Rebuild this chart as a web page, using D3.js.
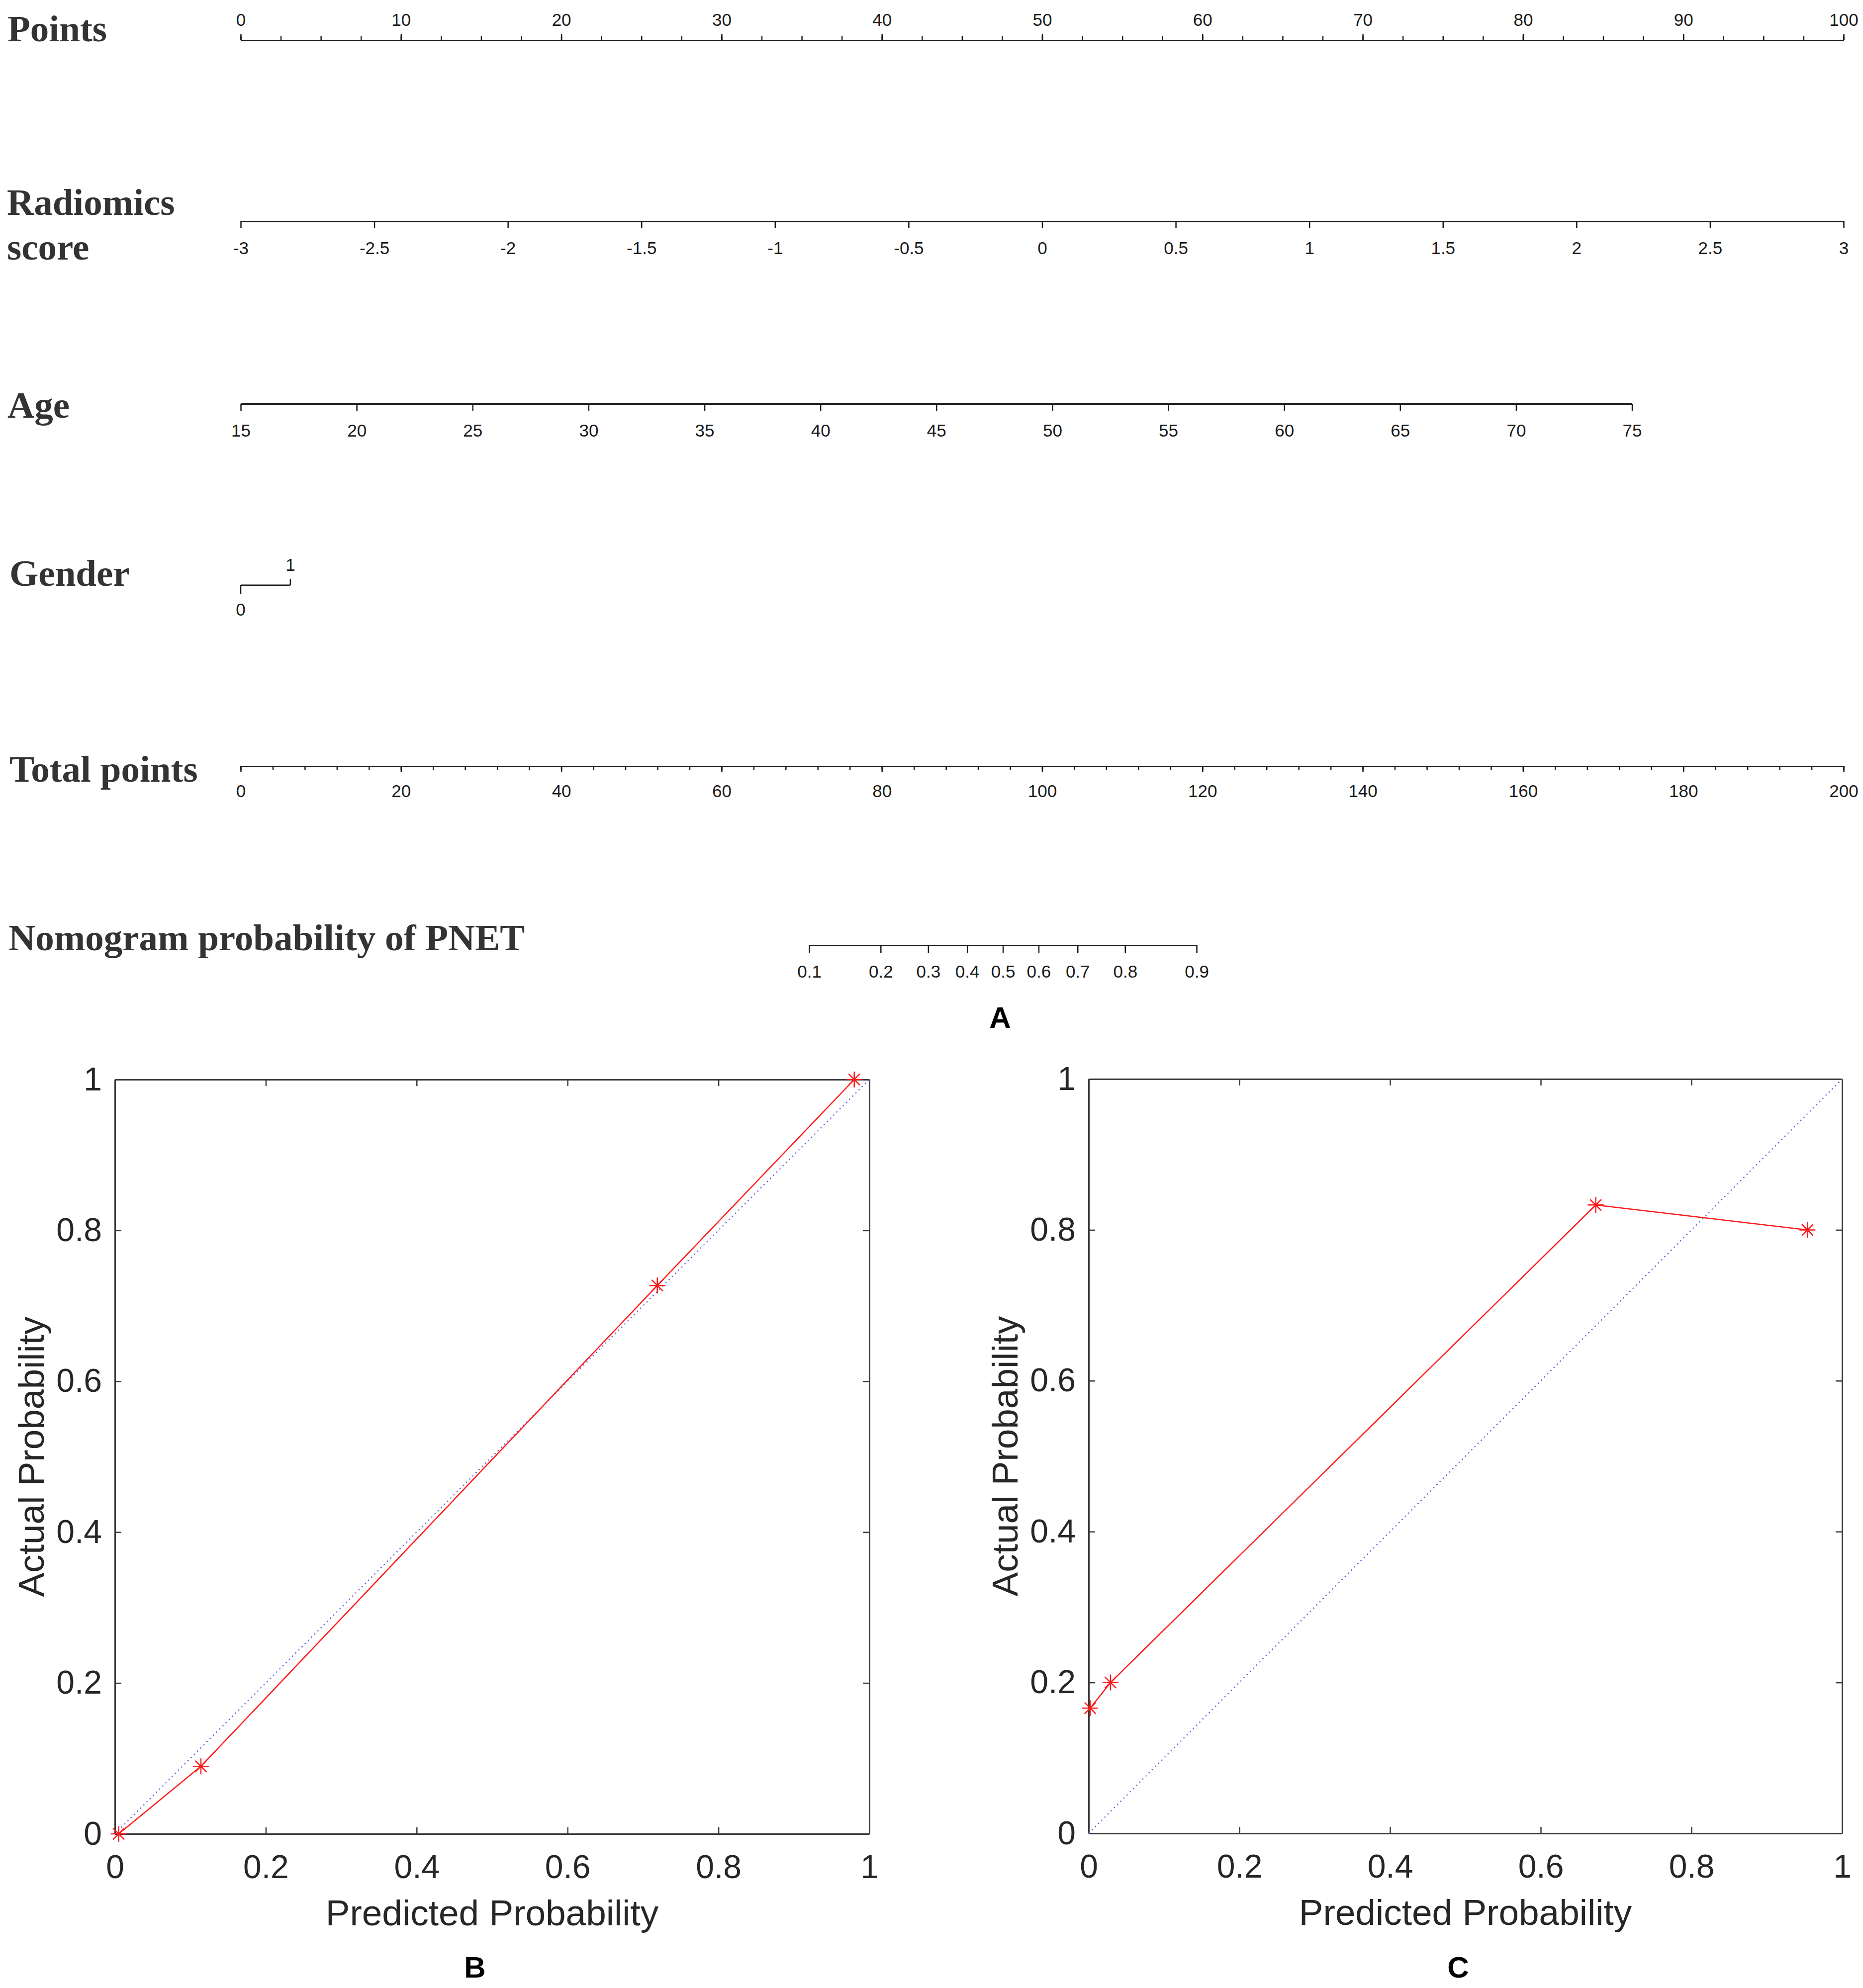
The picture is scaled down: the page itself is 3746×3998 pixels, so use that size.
<!DOCTYPE html>
<html>
<head>
<meta charset="utf-8">
<script src="https://cdn.jsdelivr.net/npm/d3@7"></script>
<style>
  body { margin: 0; background: #fff; }
</style>
</head>
<body>
<script>
// ---- nomogram data ----
var pointsTicks = [0, 10, 20, 30, 40, 50, 60, 70, 80, 90, 100];
var pointsMinor = d3.range(0, 100.01, 2.5);
var radiomicsTicks = [-3, -2.5, -2, -1.5, -1, -0.5, 0, 0.5, 1, 1.5, 2, 2.5, 3];
var radiomicsPoints = [0, 100];          // points at -3 and 3
var ageTicks = [15, 20, 25, 30, 35, 40, 45, 50, 55, 60, 65, 70, 75];
var agePoints = [0, 86.8];               // points at 15 and 75
var genderValues = [0, 1];
var genderPoints = [0, 3.1];
var totalTicks = [0, 20, 40, 60, 80, 100, 120, 140, 160, 180, 200];
var totalMinor = d3.range(0, 200.01, 4);
var probTicks = [0.1, 0.2, 0.3, 0.4, 0.5, 0.6, 0.7, 0.8, 0.9];
var probAt50 = 95.1;                     // total points where p = 0.5
var probSlope = 11.0;                    // total points per logit unit

// ---- calibration data ----
var calTicks = [0, 0.2, 0.4, 0.6, 0.8, 1];
var calDiag = [0, 1];
var predB = [0.005, 0.114, 0.719, 0.980];
var actualB = [0, 0.0895, 0.727, 1.0];
var predC = [0.002, 0.029, 0.673, 0.954];
var actualC = [0.166, 0.2, 0.833, 0.8];

var W = 3746, H = 3998;
var serif = "'Liberation Serif','Times New Roman',serif";
var sans = "'Liberation Sans',Arial,sans-serif";
var ink = "#1a1a1a";

var svg = d3.select("body").append("svg")
    .attr("width", W)
    .attr("height", H)
    .style("background", "#fff");

// ---- scales ----
var pointsX = d3.scaleLinear().domain([0, 100]).range([484, 3707]);
var radX = d3.scaleLinear().domain([-3, 3]).range(radiomicsPoints.map(pointsX));
var ageX = d3.scaleLinear().domain([15, 75]).range(agePoints.map(pointsX));
var genderX = d3.scaleLinear().domain(genderValues).range(genderPoints.map(pointsX));
var totalX = d3.scaleLinear().domain([0, 200]).range([484, 3707]);
var logitX = d3.scaleLinear().domain([0, 1]).range([totalX(probAt50), totalX(probAt50 + probSlope)]);
var logit = function(p) { return Math.log(p / (1 - p)); };
var probX = function(p) { return logitX(logit(p)); };

function styleAxis(g, width) {
    g.attr("font-size", null).attr("font-family", null).attr("fill", null);
    g.select(".domain").attr("stroke", ink).attr("stroke-width", width || 3);
    g.selectAll(".tick line").attr("stroke", ink).attr("stroke-width", 2.5);
    g.selectAll(".tick text")
        .attr("font-family", sans)
        .attr("font-size", 35)
        .attr("fill", ink);
    return g;
}

function rowLabel(txt, x, y) {
    svg.append("text")
        .attr("x", x).attr("y", y)
        .attr("font-family", serif)
        .attr("font-weight", "bold")
        .attr("font-size", 75)
        .attr("fill", "#333")
        .text(txt);
}

var fmt = function(d) { return String(d); };

// Points
rowLabel("Points", 15, 83);
styleAxis(svg.append("g").attr("transform", "translate(0,81)")
    .call(d3.axisTop(pointsX).tickValues(pointsMinor).tickSize(8).tickSizeOuter(0).tickFormat("")));
styleAxis(svg.append("g").attr("transform", "translate(0,81)")
    .call(d3.axisTop(pointsX).tickValues(pointsTicks).tickSize(13).tickPadding(16)
        .tickSizeOuter(0).tickFormat(fmt)));

// Radiomics score
rowLabel("Radiomics", 14, 432);
rowLabel("score", 14, 522);
styleAxis(svg.append("g").attr("transform", "translate(0,445)")
    .call(d3.axisBottom(radX).tickValues(radiomicsTicks).tickSize(14).tickPadding(27)
        .tickSizeOuter(0).tickFormat(fmt)));

// Age
rowLabel("Age", 15, 840);
styleAxis(svg.append("g").attr("transform", "translate(0,812)")
    .call(d3.axisBottom(ageX).tickValues(ageTicks).tickSize(14).tickPadding(27)
        .tickSizeOuter(0).tickFormat(fmt)));

// Gender
rowLabel("Gender", 19, 1178);
var genderG = svg.append("g").attr("transform", "translate(0,1177)");
genderG.append("line")
    .attr("x1", genderX(0)).attr("x2", genderX(1))
    .attr("stroke", ink).attr("stroke-width", 3);
genderG.selectAll(".gtick").data(genderValues).join("line")
    .attr("class", "gtick")
    .attr("x1", function(d) { return genderX(d); })
    .attr("x2", function(d) { return genderX(d); })
    .attr("y1", 0)
    .attr("y2", function(d) { return d === 0 ? 17 : -12; })
    .attr("stroke", ink).attr("stroke-width", 2.5);
genderG.selectAll(".glab").data(genderValues).join("text")
    .attr("class", "glab")
    .attr("x", function(d) { return genderX(d); })
    .attr("y", function(d) { return d === 0 ? 61 : -29; })
    .attr("text-anchor", "middle")
    .attr("font-family", sans).attr("font-size", 35).attr("fill", ink)
    .text(fmt);

// Total points
rowLabel("Total points", 19, 1572);
styleAxis(svg.append("g").attr("transform", "translate(0,1541)")
    .call(d3.axisBottom(totalX).tickValues(totalMinor).tickSize(8).tickSizeOuter(0).tickFormat("")));
styleAxis(svg.append("g").attr("transform", "translate(0,1541)")
    .call(d3.axisBottom(totalX).tickValues(totalTicks).tickSize(12).tickPadding(25)
        .tickSizeOuter(0).tickFormat(fmt)));

// Nomogram probability (logit-spaced)
rowLabel("Nomogram probability of PNET", 17, 1911);
var probScaleLike = function(p) { return probX(p); };
probScaleLike.range = function() { return [probX(probTicks[0]), probX(probTicks[probTicks.length - 1])]; };
probScaleLike.copy = function() { return probScaleLike; };
probScaleLike.domain = function() { return [probTicks[0], probTicks[probTicks.length - 1]]; };
styleAxis(svg.append("g").attr("transform", "translate(0,1901)")
    .call(d3.axisBottom(probScaleLike).tickValues(probTicks).tickSize(15).tickPadding(25)
        .tickSizeOuter(0).tickFormat(fmt)));

function panelLetter(txt, x, y) {
    svg.append("text")
        .attr("x", x).attr("y", y)
        .attr("text-anchor", "middle")
        .attr("font-family", sans)
        .attr("font-weight", "bold")
        .attr("font-size", 60)
        .attr("fill", "#000")
        .text(txt);
}
panelLetter("A", 2011, 2067);

// ---- calibration plots ----
var asterisk = {
    draw: function(ctx, size) {
        var r = Math.sqrt(size) / 2, d = r * Math.SQRT1_2;
        ctx.moveTo(-r, 0); ctx.lineTo(r, 0);
        ctx.moveTo(0, -r); ctx.lineTo(0, r);
        ctx.moveTo(-d, -d); ctx.lineTo(d, d);
        ctx.moveTo(-d, d); ctx.lineTo(d, -d);
    }
};

function calPlot(box, pred, actual, letter, letterX) {
    var x = d3.scaleLinear().domain([0, 1]).range([box.x0, box.x1]);
    var y = d3.scaleLinear().domain([0, 1]).range([box.y1, box.y0]);
    var g = svg.append("g");
    var frame = "#3a3a3a", txt = "#262626";

    function styleCal(a) {
        a.attr("font-size", null).attr("font-family", null).attr("fill", null);
        a.select(".domain").attr("stroke", frame).attr("stroke-width", 3);
        a.selectAll(".tick line").attr("stroke", frame).attr("stroke-width", 2.5);
        a.selectAll(".tick text")
            .attr("font-family", sans).attr("font-size", 66).attr("fill", txt);
    }

    styleCal(g.append("g").attr("transform", "translate(0," + box.y1 + ")")
        .call(d3.axisBottom(x).tickValues(calTicks).tickSizeInner(-13).tickSizeOuter(0)
            .tickPadding(42).tickFormat(fmt)));
    styleCal(g.append("g").attr("transform", "translate(" + box.x0 + ",0)")
        .call(d3.axisLeft(y).tickValues(calTicks).tickSizeInner(-13).tickSizeOuter(0)
            .tickPadding(26).tickFormat(fmt)));
    styleCal(g.append("g").attr("transform", "translate(0," + box.y0 + ")")
        .call(d3.axisTop(x).tickValues(calTicks).tickSizeInner(-13).tickSizeOuter(0).tickFormat("")));
    styleCal(g.append("g").attr("transform", "translate(" + box.x1 + ",0)")
        .call(d3.axisRight(y).tickValues(calTicks).tickSizeInner(-13).tickSizeOuter(0).tickFormat("")));

    // ideal line
    g.append("path")
        .datum(calDiag)
        .attr("d", d3.line().x(function(d) { return x(d); }).y(function(d) { return y(d); }))
        .attr("fill", "none")
        .attr("stroke", "#6262dc")
        .attr("stroke-width", 2.5)
        .attr("stroke-dasharray", "2.5,6.5");

    var pts = pred.map(function(p, i) { return [p, actual[i]]; });
    g.append("path")
        .datum(pts)
        .attr("d", d3.line().x(function(d) { return x(d[0]); }).y(function(d) { return y(d[1]); }))
        .attr("fill", "none")
        .attr("stroke", "#ff1a1a")
        .attr("stroke-width", 2.5);

    g.selectAll(".mk").data(pts).join("path")
        .attr("class", "mk")
        .attr("transform", function(d) { return "translate(" + x(d[0]) + "," + y(d[1]) + ")"; })
        .attr("d", d3.symbol().type(asterisk).size(1024))
        .attr("fill", "none")
        .attr("stroke", "#ff1a1a")
        .attr("stroke-width", 2.5);

    g.append("text")
        .attr("x", (box.x0 + box.x1) / 2)
        .attr("y", box.y1 + 184)
        .attr("text-anchor", "middle")
        .attr("font-family", sans).attr("font-size", 73).attr("fill", txt)
        .text("Predicted Probability");

    g.append("text")
        .attr("transform", "translate(" + (box.x0 - 143) + "," + ((box.y0 + box.y1) / 2) + ") rotate(-90)")
        .attr("text-anchor", "middle")
        .attr("font-family", sans).attr("font-size", 73).attr("fill", txt)
        .text("Actual Probability");

    panelLetter(letter, letterX, 3977);
}

calPlot({ x0: 231, x1: 1748, y0: 2171, y1: 3688 }, predB, actualB, "B", 955);
calPlot({ x0: 2189, x1: 3704, y0: 2170, y1: 3687 }, predC, actualC, "C", 2932);
</script>
</body>
</html>
